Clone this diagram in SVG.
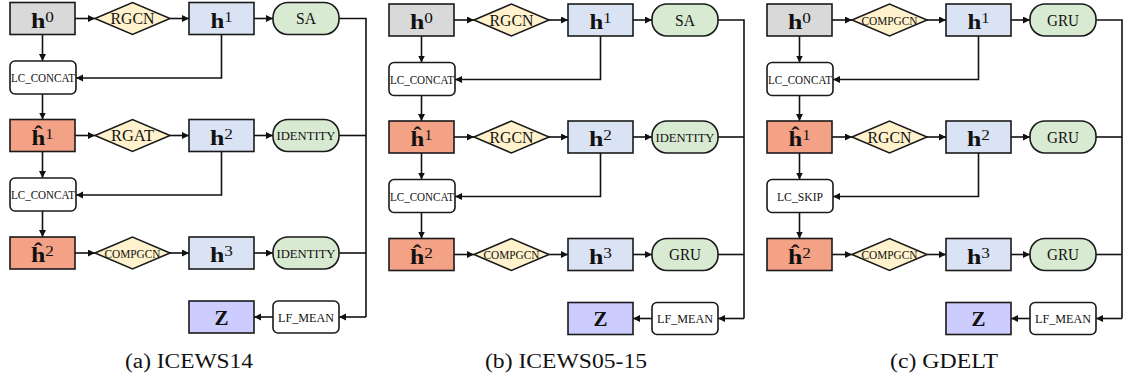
<svg xmlns="http://www.w3.org/2000/svg" width="1126" height="380" viewBox="0 0 1126 380">
<defs>
<marker id="arr" markerUnits="userSpaceOnUse" markerWidth="8" markerHeight="8" refX="7" refY="3.5" orient="auto">
<path d="M0,0 L7,3.5 L0,7 z" fill="#111"/>
</marker>
<style>
.box{stroke:#1a1a1a;stroke-width:1.6}
.g0{fill:#d9d9d9}.hb{fill:#dae3f3}.ho{fill:#f4a286}.dm{fill:#fff2cc}.pl{fill:#d9ead3}.zz{fill:#ccccff}.wh{fill:#ffffff}
.c{fill:none;stroke:#111;stroke-width:1.6}
.ca{fill:none;stroke:#111;stroke-width:1.6;marker-end:url(#arr)}
text{font-family:"Liberation Serif","Times New Roman",serif;fill:#111;text-anchor:middle}
.hl{font-size:21px}
.hl .b{font-weight:bold}
.hl .s{font-size:14px}
.lb{font-size:16px}
.sm{font-size:13px}
.cap{font-size:20px}
</style>
</defs>
<rect width="1126" height="380" fill="#ffffff"/>

<!-- Panel (a) -->
<g id="panel-a" transform="translate(10,0)">
<g id="a-connectors">
<path class="ca" d="M65,18.5 H85"/>
<path class="ca" d="M160,18.5 H179"/>
<path class="ca" d="M244,18.5 H263"/>
<path class="c" d="M329,18.5 H356 V317"/>
<path class="ca" d="M356,317 H329"/>
<path class="c" d="M329,135.5 H356"/>
<path class="c" d="M329,253 H356"/>
<path class="ca" d="M32.5,34.5 V61"/>
<path class="ca" d="M211.5,34.5 V78 H66"/>
<path class="ca" d="M32.5,94 V119.5"/>
<path class="ca" d="M65,135.5 H85"/>
<path class="ca" d="M160,135.5 H179"/>
<path class="ca" d="M244,135.5 H263"/>
<path class="ca" d="M32.5,151.5 V178"/>
<path class="ca" d="M211.5,151.5 V195 H66"/>
<path class="ca" d="M32.5,211 V237"/>
<path class="ca" d="M65,253 H85"/>
<path class="ca" d="M160,253 H179"/>
<path class="ca" d="M244,253 H263"/>
<path class="ca" d="M263,317 H244"/>
</g>
<g id="a-h0"><rect class="box g0" x="0" y="2.5" width="65" height="32"/><text class="hl" x="32.5" y="27.5" textLength="23" lengthAdjust="spacingAndGlyphs"><tspan class="b">h</tspan><tspan class="s" dy="-6">0</tspan></text></g>
<g id="a-rgcn"><polygon class="box dm" points="85,18.5 122.5,2.5 160,18.5 122.5,34.5"/><text class="lb" x="122.5" y="24" textLength="44" lengthAdjust="spacingAndGlyphs">RGCN</text></g>
<g id="a-h1"><rect class="box hb" x="179" y="2.5" width="65" height="32"/><text class="hl" x="211.5" y="27.5" textLength="22" lengthAdjust="spacingAndGlyphs"><tspan class="b">h</tspan><tspan class="s" dy="-6">1</tspan></text></g>
<g id="a-sa"><rect class="box pl" x="263" y="2.5" width="66" height="32" rx="15"/><text class="lb" x="296" y="24" textLength="20" lengthAdjust="spacingAndGlyphs">SA</text></g>
<g id="a-lc1"><rect class="box wh" x="0" y="61" width="66" height="33" rx="5"/><text class="sm" x="33" y="82" textLength="64" lengthAdjust="spacingAndGlyphs">LC_CONCAT</text></g>
<g id="a-hh1"><rect class="box ho" x="0" y="119.5" width="65" height="32"/><text class="hl" x="32.5" y="144.5" textLength="22" lengthAdjust="spacingAndGlyphs"><tspan class="b">ĥ</tspan><tspan class="s" dy="-6">1</tspan></text></g>
<g id="a-rgat"><polygon class="box dm" points="85,135.5 122.5,119.5 160,135.5 122.5,151.5"/><text class="lb" x="122.5" y="141" textLength="43" lengthAdjust="spacingAndGlyphs">RGAT</text></g>
<g id="a-h2"><rect class="box hb" x="179" y="119.5" width="65" height="32"/><text class="hl" x="211.5" y="144.5" textLength="23" lengthAdjust="spacingAndGlyphs"><tspan class="b">h</tspan><tspan class="s" dy="-6">2</tspan></text></g>
<g id="a-id1"><rect class="box pl" x="263" y="119.5" width="66" height="32" rx="15"/><text class="sm" x="296" y="140" textLength="59" lengthAdjust="spacingAndGlyphs">IDENTITY</text></g>
<g id="a-lc2"><rect class="box wh" x="0" y="178" width="66" height="33" rx="5"/><text class="sm" x="33" y="199" textLength="64" lengthAdjust="spacingAndGlyphs">LC_CONCAT</text></g>
<g id="a-hh2"><rect class="box ho" x="0" y="237" width="65" height="32"/><text class="hl" x="32.5" y="262" textLength="23" lengthAdjust="spacingAndGlyphs"><tspan class="b">ĥ</tspan><tspan class="s" dy="-6">2</tspan></text></g>
<g id="a-compgcn"><polygon class="box dm" points="85,253 122.5,237 160,253 122.5,269"/><text class="sm" x="122.5" y="257.5" textLength="56" lengthAdjust="spacingAndGlyphs">COMPGCN</text></g>
<g id="a-h3"><rect class="box hb" x="179" y="237" width="65" height="32"/><text class="hl" x="211.5" y="262" textLength="23" lengthAdjust="spacingAndGlyphs"><tspan class="b">h</tspan><tspan class="s" dy="-6">3</tspan></text></g>
<g id="a-id2"><rect class="box pl" x="263" y="237" width="66" height="32" rx="15"/><text class="sm" x="296" y="257.5" textLength="59" lengthAdjust="spacingAndGlyphs">IDENTITY</text></g>
<g id="a-z"><rect class="box zz" x="179" y="301" width="65" height="32"/><text class="hl" x="211.5" y="324.5"><tspan class="b">Z</tspan></text></g>
<g id="a-lfmean"><rect class="box wh" x="263" y="301" width="66" height="32" rx="5"/><text class="sm" x="296" y="321.5" textLength="56" lengthAdjust="spacingAndGlyphs">LF_MEAN</text></g>
<text class="cap" x="179" y="368" textLength="128" lengthAdjust="spacingAndGlyphs">(a) ICEWS14</text>
</g>

<!-- Panel (b) -->
<g id="panel-b" transform="translate(389,1.5)">
<g id="b-connectors">
<path class="ca" d="M65,18.5 H85"/>
<path class="ca" d="M160,18.5 H179"/>
<path class="ca" d="M244,18.5 H263"/>
<path class="c" d="M329,18.5 H355 V317"/>
<path class="ca" d="M355,317 H329"/>
<path class="c" d="M329,135.5 H355"/>
<path class="c" d="M329,253 H355"/>
<path class="ca" d="M32.5,34.5 V61"/>
<path class="ca" d="M211.5,34.5 V78 H66"/>
<path class="ca" d="M32.5,94 V119.5"/>
<path class="ca" d="M65,135.5 H85"/>
<path class="ca" d="M160,135.5 H179"/>
<path class="ca" d="M244,135.5 H263"/>
<path class="ca" d="M32.5,151.5 V178"/>
<path class="ca" d="M211.5,151.5 V195 H66"/>
<path class="ca" d="M32.5,211 V237"/>
<path class="ca" d="M65,253 H85"/>
<path class="ca" d="M160,253 H179"/>
<path class="ca" d="M244,253 H263"/>
<path class="ca" d="M263,317 H244"/>
</g>
<g id="b-h0"><rect class="box g0" x="0" y="2.5" width="65" height="32"/><text class="hl" x="32.5" y="27.5" textLength="23" lengthAdjust="spacingAndGlyphs"><tspan class="b">h</tspan><tspan class="s" dy="-6">0</tspan></text></g>
<g id="b-rgcn"><polygon class="box dm" points="85,18.5 122.5,2.5 160,18.5 122.5,34.5"/><text class="lb" x="122.5" y="24" textLength="44" lengthAdjust="spacingAndGlyphs">RGCN</text></g>
<g id="b-h1"><rect class="box hb" x="179" y="2.5" width="65" height="32"/><text class="hl" x="211.5" y="27.5" textLength="22" lengthAdjust="spacingAndGlyphs"><tspan class="b">h</tspan><tspan class="s" dy="-6">1</tspan></text></g>
<g id="b-sa"><rect class="box pl" x="263" y="2.5" width="66" height="32" rx="15"/><text class="lb" x="296" y="24" textLength="20" lengthAdjust="spacingAndGlyphs">SA</text></g>
<g id="b-lc1"><rect class="box wh" x="0" y="61" width="66" height="33" rx="5"/><text class="sm" x="33" y="82" textLength="64" lengthAdjust="spacingAndGlyphs">LC_CONCAT</text></g>
<g id="b-hh1"><rect class="box ho" x="0" y="119.5" width="65" height="32"/><text class="hl" x="32.5" y="144.5" textLength="22" lengthAdjust="spacingAndGlyphs"><tspan class="b">ĥ</tspan><tspan class="s" dy="-6">1</tspan></text></g>
<g id="b-rgcn2"><polygon class="box dm" points="85,135.5 122.5,119.5 160,135.5 122.5,151.5"/><text class="lb" x="122.5" y="141" textLength="44" lengthAdjust="spacingAndGlyphs">RGCN</text></g>
<g id="b-h2"><rect class="box hb" x="179" y="119.5" width="65" height="32"/><text class="hl" x="211.5" y="144.5" textLength="23" lengthAdjust="spacingAndGlyphs"><tspan class="b">h</tspan><tspan class="s" dy="-6">2</tspan></text></g>
<g id="b-id1"><rect class="box pl" x="263" y="119.5" width="66" height="32" rx="15"/><text class="sm" x="296" y="140" textLength="59" lengthAdjust="spacingAndGlyphs">IDENTITY</text></g>
<g id="b-lc2"><rect class="box wh" x="0" y="178" width="66" height="33" rx="5"/><text class="sm" x="33" y="199" textLength="64" lengthAdjust="spacingAndGlyphs">LC_CONCAT</text></g>
<g id="b-hh2"><rect class="box ho" x="0" y="237" width="65" height="32"/><text class="hl" x="32.5" y="262" textLength="23" lengthAdjust="spacingAndGlyphs"><tspan class="b">ĥ</tspan><tspan class="s" dy="-6">2</tspan></text></g>
<g id="b-compgcn"><polygon class="box dm" points="85,253 122.5,237 160,253 122.5,269"/><text class="sm" x="122.5" y="257.5" textLength="56" lengthAdjust="spacingAndGlyphs">COMPGCN</text></g>
<g id="b-h3"><rect class="box hb" x="179" y="237" width="65" height="32"/><text class="hl" x="211.5" y="262" textLength="23" lengthAdjust="spacingAndGlyphs"><tspan class="b">h</tspan><tspan class="s" dy="-6">3</tspan></text></g>
<g id="b-gru"><rect class="box pl" x="263" y="237" width="66" height="32" rx="15"/><text class="lb" x="296" y="258.5" textLength="32" lengthAdjust="spacingAndGlyphs">GRU</text></g>
<g id="b-z"><rect class="box zz" x="179" y="301" width="65" height="32"/><text class="hl" x="211.5" y="324.5"><tspan class="b">Z</tspan></text></g>
<g id="b-lfmean"><rect class="box wh" x="263" y="301" width="66" height="32" rx="5"/><text class="sm" x="296" y="321.5" textLength="56" lengthAdjust="spacingAndGlyphs">LF_MEAN</text></g>
<text class="cap" x="177" y="366.5" textLength="162" lengthAdjust="spacingAndGlyphs">(b) ICEWS05-15</text>
</g>

<!-- Panel (c) -->
<g id="panel-c" transform="translate(767,1.5)">
<g id="c-connectors">
<path class="ca" d="M65,18.5 H85"/>
<path class="ca" d="M160,18.5 H179"/>
<path class="ca" d="M244,18.5 H263"/>
<path class="c" d="M329,18.5 H355 V317"/>
<path class="ca" d="M355,317 H329"/>
<path class="c" d="M329,135.5 H355"/>
<path class="c" d="M329,253 H355"/>
<path class="ca" d="M32.5,34.5 V61"/>
<path class="ca" d="M211.5,34.5 V78 H66"/>
<path class="ca" d="M32.5,94 V119.5"/>
<path class="ca" d="M65,135.5 H85"/>
<path class="ca" d="M160,135.5 H179"/>
<path class="ca" d="M244,135.5 H263"/>
<path class="ca" d="M32.5,151.5 V178"/>
<path class="ca" d="M211.5,151.5 V195 H66"/>
<path class="ca" d="M32.5,211 V237"/>
<path class="ca" d="M65,253 H85"/>
<path class="ca" d="M160,253 H179"/>
<path class="ca" d="M244,253 H263"/>
<path class="ca" d="M263,317 H244"/>
</g>
<g id="c-h0"><rect class="box g0" x="0" y="2.5" width="65" height="32"/><text class="hl" x="32.5" y="27.5" textLength="23" lengthAdjust="spacingAndGlyphs"><tspan class="b">h</tspan><tspan class="s" dy="-6">0</tspan></text></g>
<g id="c-compgcn1"><polygon class="box dm" points="85,18.5 122.5,2.5 160,18.5 122.5,34.5"/><text class="sm" x="122.5" y="23" textLength="56" lengthAdjust="spacingAndGlyphs">COMPGCN</text></g>
<g id="c-h1"><rect class="box hb" x="179" y="2.5" width="65" height="32"/><text class="hl" x="211.5" y="27.5" textLength="22" lengthAdjust="spacingAndGlyphs"><tspan class="b">h</tspan><tspan class="s" dy="-6">1</tspan></text></g>
<g id="c-gru1"><rect class="box pl" x="263" y="2.5" width="66" height="32" rx="15"/><text class="lb" x="296" y="24" textLength="32" lengthAdjust="spacingAndGlyphs">GRU</text></g>
<g id="c-lc1"><rect class="box wh" x="0" y="61" width="66" height="33" rx="5"/><text class="sm" x="33" y="82" textLength="64" lengthAdjust="spacingAndGlyphs">LC_CONCAT</text></g>
<g id="c-hh1"><rect class="box ho" x="0" y="119.5" width="65" height="32"/><text class="hl" x="32.5" y="144.5" textLength="22" lengthAdjust="spacingAndGlyphs"><tspan class="b">ĥ</tspan><tspan class="s" dy="-6">1</tspan></text></g>
<g id="c-rgcn"><polygon class="box dm" points="85,135.5 122.5,119.5 160,135.5 122.5,151.5"/><text class="lb" x="122.5" y="141" textLength="44" lengthAdjust="spacingAndGlyphs">RGCN</text></g>
<g id="c-h2"><rect class="box hb" x="179" y="119.5" width="65" height="32"/><text class="hl" x="211.5" y="144.5" textLength="23" lengthAdjust="spacingAndGlyphs"><tspan class="b">h</tspan><tspan class="s" dy="-6">2</tspan></text></g>
<g id="c-gru2"><rect class="box pl" x="263" y="119.5" width="66" height="32" rx="15"/><text class="lb" x="296" y="141" textLength="32" lengthAdjust="spacingAndGlyphs">GRU</text></g>
<g id="c-lcskip"><rect class="box wh" x="0" y="178" width="66" height="33" rx="5"/><text class="sm" x="33" y="199" textLength="46" lengthAdjust="spacingAndGlyphs">LC_SKIP</text></g>
<g id="c-hh2"><rect class="box ho" x="0" y="237" width="65" height="32"/><text class="hl" x="32.5" y="262" textLength="23" lengthAdjust="spacingAndGlyphs"><tspan class="b">ĥ</tspan><tspan class="s" dy="-6">2</tspan></text></g>
<g id="c-compgcn2"><polygon class="box dm" points="85,253 122.5,237 160,253 122.5,269"/><text class="sm" x="122.5" y="257.5" textLength="56" lengthAdjust="spacingAndGlyphs">COMPGCN</text></g>
<g id="c-h3"><rect class="box hb" x="179" y="237" width="65" height="32"/><text class="hl" x="211.5" y="262" textLength="23" lengthAdjust="spacingAndGlyphs"><tspan class="b">h</tspan><tspan class="s" dy="-6">3</tspan></text></g>
<g id="c-gru3"><rect class="box pl" x="263" y="237" width="66" height="32" rx="15"/><text class="lb" x="296" y="258.5" textLength="32" lengthAdjust="spacingAndGlyphs">GRU</text></g>
<g id="c-z"><rect class="box zz" x="179" y="301" width="65" height="32"/><text class="hl" x="211.5" y="324.5"><tspan class="b">Z</tspan></text></g>
<g id="c-lfmean"><rect class="box wh" x="263" y="301" width="66" height="32" rx="5"/><text class="sm" x="296" y="321.5" textLength="56" lengthAdjust="spacingAndGlyphs">LF_MEAN</text></g>
<text class="cap" x="177" y="366.5" textLength="108" lengthAdjust="spacingAndGlyphs">(c) GDELT</text>
</g>
</svg>
